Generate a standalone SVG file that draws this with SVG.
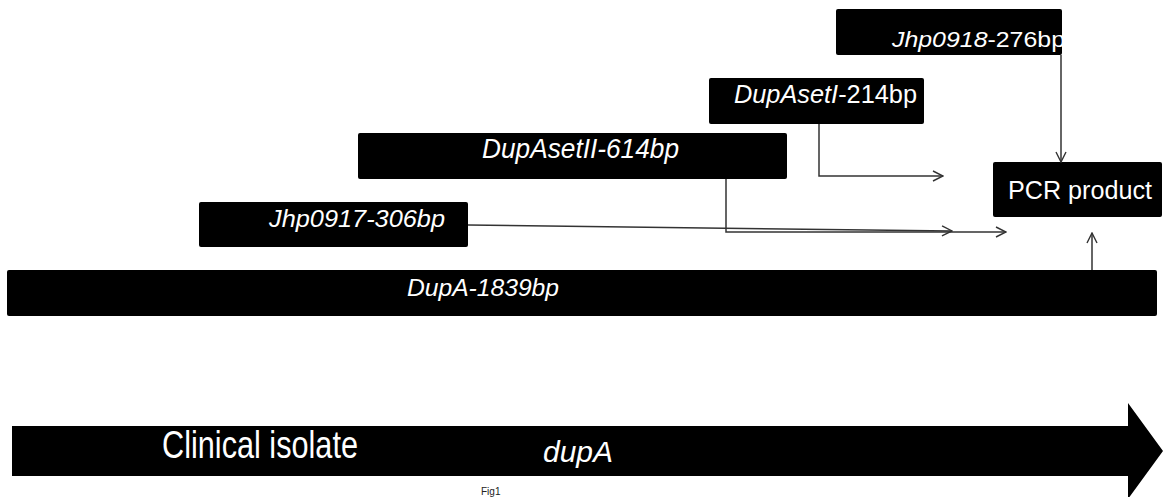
<svg xmlns="http://www.w3.org/2000/svg" width="1163" height="497" viewBox="0 0 1163 497">
  <defs>
    <marker id="chev" viewBox="0 0 12 12" refX="11" refY="6" markerWidth="12" markerHeight="12" markerUnits="userSpaceOnUse" orient="auto">
      <path d="M1,1 L11,6 L1,11" fill="none" stroke="#333" stroke-width="1.4"/>
    </marker>
    <style>
      .box { fill: #000; }
      .lbl { fill: #fff; font-family: "Liberation Sans", Arial, sans-serif; }
      .it { font-style: italic; }
      .up { font-style: normal; }
      .conn { fill: none; stroke: #333; stroke-width: 1.5; marker-end: url(#chev); }
    </style>
  </defs>
  <rect width="1163" height="497" fill="#fff"/>

  <!-- primer / amplicon bars -->
  <g id="jhp0918">
    <rect class="box" x="836" y="9" width="226" height="46" rx="2"/>
    <text class="lbl" x="892" y="47" font-size="22" textLength="173" lengthAdjust="spacingAndGlyphs"><tspan class="it">Jhp0918</tspan><tspan class="up">-276bp</tspan></text>
  </g>
  <g id="dupaseti">
    <rect class="box" x="709" y="78" width="215" height="46" rx="2"/>
    <text class="lbl" x="734" y="103" font-size="25" textLength="183" lengthAdjust="spacingAndGlyphs"><tspan class="it">DupAsetI</tspan><tspan class="up">-214bp</tspan></text>
  </g>
  <g id="dupasetii">
    <rect class="box" x="358" y="133" width="429" height="46" rx="2"/>
    <text class="lbl it" x="482" y="158" font-size="27" textLength="197" lengthAdjust="spacingAndGlyphs">DupAsetII-614bp</text>
  </g>
  <g id="jhp0917">
    <rect class="box" x="199" y="202" width="269" height="45" rx="2"/>
    <text class="lbl it" x="269" y="227" font-size="23" textLength="176" lengthAdjust="spacingAndGlyphs">Jhp0917-306bp</text>
  </g>
  <g id="dupa">
    <rect class="box" x="7" y="270" width="1150" height="46" rx="2"/>
    <text class="lbl it" x="407" y="296" font-size="24" textLength="152" lengthAdjust="spacingAndGlyphs">DupA-1839bp</text>
  </g>
  <g id="pcr">
    <rect class="box" x="993" y="162" width="169" height="55" rx="2"/>
    <text class="lbl" x="1008" y="199" font-size="26" textLength="144" lengthAdjust="spacingAndGlyphs">PCR product</text>
  </g>

  <!-- gene arrow -->
  <g id="isolate">
    <path class="box" d="M12,426 H1128 V403 L1163,451 L1128,499 V476 H12 Z"/>
    <text class="lbl" x="162" y="458" font-size="38" textLength="196" lengthAdjust="spacingAndGlyphs">Clinical isolate</text>
    <text class="lbl it" x="543" y="462" font-size="30" textLength="70" lengthAdjust="spacingAndGlyphs">dupA</text>
  </g>

  <text x="481" y="495" font-family="'Liberation Sans', Arial, sans-serif" font-size="10" fill="#222">Fig1</text>

  <!-- connectors -->
  <g id="connectors">
    <path class="conn" d="M1061,55 V162"/>
    <path class="conn" d="M819,124 V176 H943"/>
    <path class="conn" d="M468,225 L952,231"/>
    <path class="conn" d="M726,179 V232 H1006"/>
    <path class="conn" d="M1092,270 V233"/>
  </g>
</svg>
